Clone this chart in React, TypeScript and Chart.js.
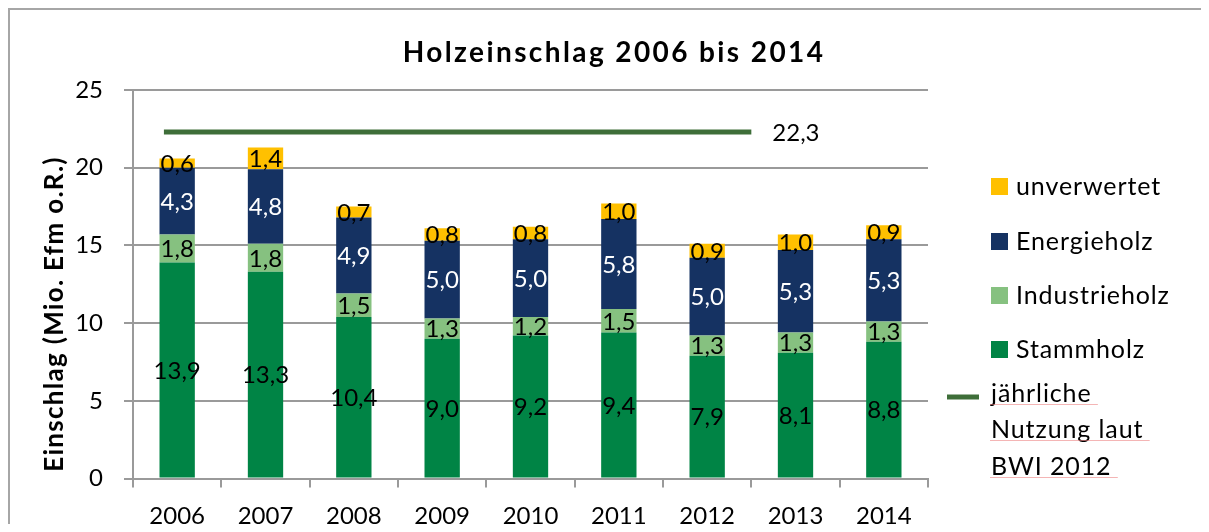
import React, { useEffect, useRef } from "react";
import { Chart, registerables } from "chart.js";

Chart.register(...registerables);

// ---------- data ----------
const years = ["2006", "2007", "2008", "2009", "2010", "2011", "2012", "2013", "2014"];
const stammholz = [13.9, 13.3, 10.4, 9.0, 9.2, 9.4, 7.9, 8.1, 8.8];
const industrieholz = [1.8, 1.8, 1.5, 1.3, 1.2, 1.5, 1.3, 1.3, 1.3];
const energieholz = [4.3, 4.8, 4.9, 5.0, 5.0, 5.8, 5.0, 5.3, 5.3];
const unverwertet = [0.6, 1.4, 0.7, 0.8, 0.8, 1.0, 0.9, 1.0, 0.9];
const bwiValue = 22.3;
// start / end of the BWI line, in category index units
const bwiSpan = [-0.15, 6.5];
const seriesNames = ["Stammholz", "Industrieholz", "Energieholz", "unverwertet"];
const bwiName = ["jährliche", "Nutzung laut", "BWI 2012"];
const titleText = "Holzeinschlag 2006 bis 2014";
const yTitleText = "Einschlag (Mio. Efm o.R.)";

// ---------- style ----------
const FONT = "Lato, 'Open Sans', 'DejaVu Sans', sans-serif";
const COLORS = ["#008445", "#86C180", "#153262", "#FFC000"];
const LABEL_COLORS = ["#000000", "#000000", "#FFFFFF", "#000000"];
const LINE_COLOR = "#3E6E39";
const GRID = "#9A9A9A";
const TICK_SIZE = 24;
const W = 1199;
const H = 522;

const fmt = (v: number) => v.toFixed(1).replace(".", ",");

const overlayPlugin = {
  id: "overlay",
  afterDatasetsDraw(chart: any) {
    const ctx = chart.ctx as CanvasRenderingContext2D;
    ctx.save();
    ctx.font = `24px ${FONT}`;
    ctx.textAlign = "center";
    ctx.textBaseline = "middle";
    chart.data.datasets.forEach((ds: any, i: number) => {
      if (ds.type === "line") return;
      const meta = chart.getDatasetMeta(i);
      meta.data.forEach((el: any, j: number) => {
        const p = el.getProps(["x", "y", "base"], true);
        ctx.fillStyle = LABEL_COLORS[i];
        ctx.fillText(fmt(ds.data[j]), p.x, (p.y + p.base) / 2 + 1);
      });
    });
    // value label of BWI line
    const lm = chart.getDatasetMeta(4);
    const last = lm.data[lm.data.length - 1];
    ctx.textAlign = "left";
    ctx.fillStyle = "#000";
    ctx.fillText(fmt(bwiValue), last.x + 21, last.y + 1);
    ctx.restore();
  },
  afterDraw(chart: any) {
    const ctx = chart.ctx as any;
    // chart title
    ctx.save();
    ctx.font = `bold 28px ${FONT}`;
    ctx.letterSpacing = "2.4px";
    ctx.fillStyle = "#000";
    ctx.textAlign = "center";
    ctx.textBaseline = "alphabetic";
    ctx.fillText(titleText, 604, 52);
    ctx.restore();

    // y-axis title
    ctx.save();
    ctx.font = `bold 26px ${FONT}`;
    ctx.letterSpacing = "1.3px";
    ctx.fillStyle = "#000";
    ctx.textAlign = "center";
    ctx.textBaseline = "middle";
    ctx.translate(45, 304);
    ctx.rotate(-Math.PI / 2);
    ctx.fillText(yTitleText, 0, 0);
    ctx.restore();

    // legend
    ctx.save();
    ctx.font = `25px ${FONT}`;
    ctx.letterSpacing = "0.9px";
    ctx.textAlign = "left";
    ctx.textBaseline = "alphabetic";
    const order = [3, 2, 1, 0];
    const baselines = [185, 240, 294, 348];
    order.forEach((idx, k) => {
      const b = baselines[k];
      ctx.fillStyle = COLORS[idx];
      ctx.fillRect(981, b - 17, 17, 17);
      ctx.fillStyle = "#000";
      ctx.fillText(seriesNames[idx], 1006, b);
    });
    // line legend
    ctx.strokeStyle = LINE_COLOR;
    ctx.lineWidth = 5;
    ctx.beginPath();
    ctx.moveTo(937, 387);
    ctx.lineTo(969, 387);
    ctx.stroke();
    const lb = [392, 428, 465];
    bwiName.forEach((t, k) => {
      ctx.fillStyle = "#000";
      ctx.fillText(t, 981, lb[k]);
      const w = ctx.measureText(t + " ").width;
      ctx.fillStyle = "rgba(235,120,120,0.55)";
      ctx.fillRect(980, lb[k] + 2, w, 1);
    });
    ctx.restore();
  },
};

export default function App() {
  const ref = useRef<HTMLCanvasElement>(null);

  useEffect(() => {
    document.documentElement.style.overflow = "hidden";
    document.body.style.overflow = "hidden";
    const canvas = ref.current!;
    const chart = new Chart(canvas, {
      type: "bar",
      data: {
        labels: years,
        datasets: [
          ...[stammholz, industrieholz, energieholz, unverwertet].map((d, i) => ({
            type: "bar" as const,
            label: seriesNames[i],
            data: d,
            backgroundColor: COLORS[i],
            borderWidth: 0,
            categoryPercentage: 1.0,
            barPercentage: 0.4,
            grouped: false,
          })),
          {
            type: "line" as const,
            label: bwiName.join(" "),
            data: [
              { x: bwiSpan[0], y: bwiValue },
              { x: bwiSpan[1], y: bwiValue },
            ],
            xAxisID: "xl",
            borderColor: LINE_COLOR,
            borderWidth: 5,
            pointRadius: 0,
            borderCapStyle: "butt",
            stack: "bwi",
          } as any,
        ],
      },
      options: {
        responsive: false,
        animation: false,
        layout: { padding: { left: 0, right: W - 918, top: 80, bottom: 0 } },
        plugins: {
          legend: { display: false },
          tooltip: { enabled: false },
          title: { display: false },
        },
        scales: {
          x: {
            stacked: true,
            offset: true,
            grid: {
              drawOnChartArea: false,
              drawTicks: true,
              tickLength: 9,
              color: GRID,
              lineWidth: 2,
              offset: true,
            },
            border: { display: true, color: GRID, width: 2 },
            ticks: { color: "#000", font: { family: FONT, size: TICK_SIZE }, padding: 14 },
            afterFit: (s: any) => {
              s.height = 53.5;
            },
          },
          xl: {
            type: "linear",
            display: false,
            offset: false,
            min: -0.5,
            max: 8.5,
          },
          y: {
            stacked: true,
            min: 0,
            max: 25,
            ticks: {
              stepSize: 5,
              color: "#000",
              font: { family: FONT, size: TICK_SIZE },
              padding: 21,
            },
            grid: { color: GRID, lineWidth: 2, tickLength: 9, drawTicks: true },
            border: { display: true, color: GRID, width: 2 },
            afterFit: (s: any) => {
              s.width = 123;
            },
          },
        },
      },
      plugins: [overlayPlugin],
    } as any);
    return () => chart.destroy();
  }, []);

  return (
    <div
      style={{
        width: W,
        height: H,
        borderTop: "2px solid #A6A6A6",
        borderLeft: "2px solid #A6A6A6",
        marginBottom: -8,
        background: "#fff",
      }}
    >
      <canvas ref={ref} width={W} height={H} style={{ display: "block" }} />
    </div>
  );
}
